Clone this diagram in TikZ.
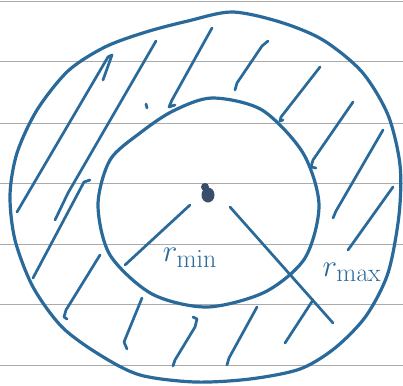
\documentclass[tikz,border=0pt]{standalone}
\usetikzlibrary{calc}
\definecolor{ink}{HTML}{2A6A9A}
\definecolor{inkdark}{HTML}{384E6A}
\definecolor{rule}{HTML}{ABABAB}

\begin{document}
\begin{tikzpicture}[x=1pt,y=-1pt,
    ink/.style={draw=ink,line width=3.2pt,line cap=round,line join=round},
    hatch/.style={draw=ink,line width=2.7pt,line cap=round,line join=round},
    ruling/.style={draw=rule,line width=1pt},
    radlabel/.style={text=ink,font=\Huge,inner sep=0pt}]
  \useasboundingbox (0,0) rectangle (403,385);
  \fill[white] (0,0) rectangle (403,385);
  % ruled paper
  \foreach \y in {2,62,123,183,244,304,365}
    \draw[ruling] (0,\y) -- (403,\y);
  % outer boundary
  \draw[ink] plot[smooth cycle,tension=0.5] coordinates {
    (232,12) (280,22) (323,40) (362,72) (388,115) (400,165) (399,215)
    (388,273) (366,316) (335,348) (300,369) (250,379) (195,382) (140,375)
    (100,355) (62,327) (33,287) (15,240) (10,195) (17,153) (37,110)
    (68,71) (105,47) (146,32) (188,21)};
  % inner boundary
  \draw[ink] plot[smooth cycle,tension=0.5] coordinates {
    (319,205) (305,258) (265,292) (207,307) (152,294) (110,255) (98,205)
    (110,160) (140,133) (173,111) (212,98) (262,110) (303,153)};
  % hatching of the ring
  \draw[hatch] (103,80) -- (112,55) -- (108,57) -- (17,212);
  \draw[hatch] (156,41) -- (68,193) -- (55,220);
  \draw[hatch] (90,180) -- (84,182) -- (33,278);
  \draw[hatch] (100,255) -- (66,310) -- (64,317) -- (67,319);
  \draw[hatch] (142,298) -- (124,342) -- (127,349);
  \draw[hatch] (193,317) -- (197,319) -- (195,327) -- (175,360) -- (173,366);
  \draw[hatch] (257,307) -- (229,358) -- (227,365);
  \draw[hatch] (313,300) -- (285,343);
  \draw[hatch] (393,187) -- (348,250);
  \draw[hatch] (383,130) -- (336,211) -- (333,218);
  \draw[hatch] (353,102) -- (313,160) -- (311,167) -- (316,168);
  \draw[hatch] (320,67) -- (281,117) -- (280,121) -- (283,120);
  \draw[hatch] (212,28) -- (172,100) -- (169,107) -- (175,105);
  \draw[hatch] (268,41) -- (262,46) -- (237,83) -- (235,90);
  \draw[hatch] (146,104) -- (147,108);
  % centre
  \fill[inkdark] (208,195) ellipse (6.5pt and 7.5pt);
  \fill[inkdark] (205,187) circle (4pt);
  % radii
  \draw[hatch] (190,205) -- (125,265);
  \draw[hatch] (230,207) -- (333,323);
  \node[radlabel] (rmin) at (190,258) {\scalebox{1.25}{$r_{\min}$}};
  \node[radlabel] (rmax) at (352,272) {\scalebox{1.25}{$r_{\max}$}};
\end{tikzpicture}
\end{document}
